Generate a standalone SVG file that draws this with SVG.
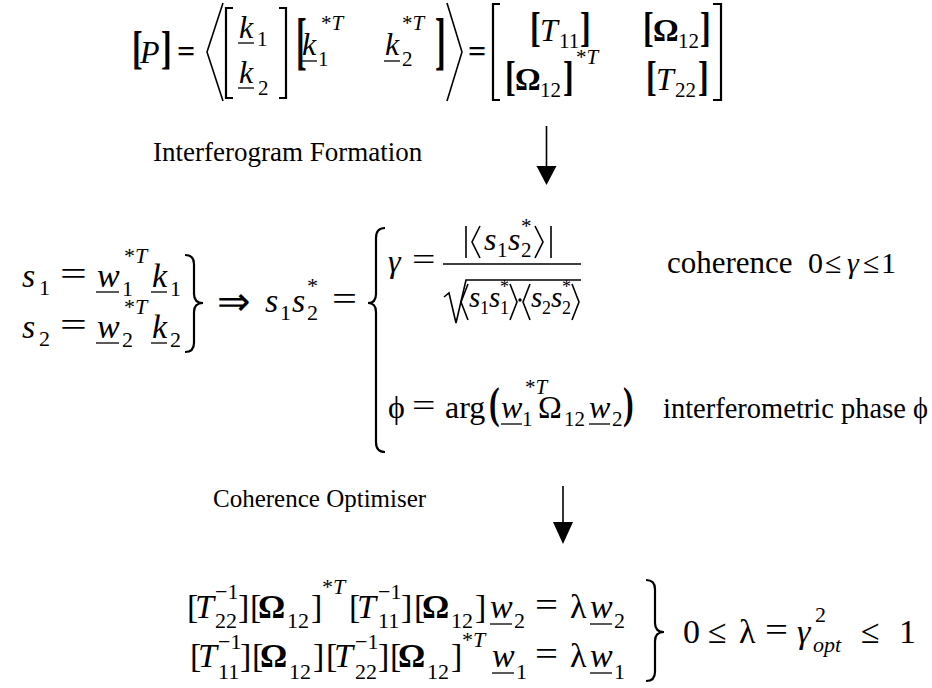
<svg xmlns="http://www.w3.org/2000/svg" width="932" height="688" viewBox="0 0 932 688">
<style>
.t{font-family:"Liberation Serif","Times New Roman",serif;fill:#000}
.m{font-size:32px}
.n{font-size:34px}
.d{font-size:30px}
.e{font-size:29px}
.i{font-style:italic}
.s{font-size:21px}
.ss{font-size:18px}
.b{font-weight:bold}
.q{font-size:34px}
.qs{font-size:22px}
.ln{stroke:#000;stroke-width:1.6;fill:none}
.tk{stroke:#000;stroke-width:2.2;fill:none}
.ul{stroke:#000;stroke-width:1.3}
</style>
<rect width="932" height="688" fill="#fff"/>

<g id="eq-covariance">
  <text class="t m b" transform="translate(132,63) scale(1,1.45)">[</text>
  <text class="t m i" x="140" y="63">P</text>
  <text class="t m b" transform="translate(161,63) scale(1,1.45)">]</text>
  <text class="t m b" x="177" y="62">=</text>
  <path class="ln" d="M223,3 L207,52 L223,101"/>
  <path class="tk" d="M233,8 H226 V98 H233"/>
  <text class="t m i" x="239" y="38">k</text>
  <line class="ul" x1="238" y1="43" x2="254" y2="43"/>
  <text class="t s" x="257" y="46">1</text>
  <text class="t m i" x="239" y="83">k</text>
  <line class="ul" x1="238" y1="88" x2="254" y2="88"/>
  <text class="t s" x="258" y="95">2</text>
  <path class="tk" d="M279,8 H286 V98 H279"/>
  <text class="t m b" transform="translate(296,62) scale(1,2)">[</text>
  <text class="t m i" x="302" y="55">k</text>
  <line class="ul" x1="301" y1="61" x2="317" y2="61"/>
  <text class="t s" x="318" y="66">1</text>
  <text class="t s" x="321" y="30">*<tspan class="i">T</tspan></text>
  <text class="t m i" x="385" y="55">k</text>
  <line class="ul" x1="384" y1="61" x2="400" y2="61"/>
  <text class="t s" x="402" y="66">2</text>
  <text class="t s" x="402" y="30">*<tspan class="i">T</tspan></text>
  <text class="t m b" transform="translate(435,62) scale(1,2)">]</text>
  <path class="ln" d="M447,3 L462,52 L447,101"/>
  <text class="t m b" x="468" y="62">=</text>
  <path class="tk" d="M500,4 H493 V100 H500"/>
  <path class="tk" d="M713,4 H721 V100 H713"/>
  <text class="t m b" transform="translate(530,41) scale(1,1.35)">[</text>
  <text class="t m i" x="540" y="41">T</text>
  <text class="t s" x="559" y="48">11</text>
  <text class="t m b" transform="translate(580,41) scale(1,1.35)">]</text>
  <text class="t m b" transform="translate(643,41) scale(1,1.35)">[</text>
  <text class="t m b" x="653" y="41">Ω</text>
  <text class="t s" x="678" y="48">12</text>
  <text class="t m b" transform="translate(700,41) scale(1,1.35)">]</text>
  <text class="t m b" transform="translate(505,90) scale(1,1.35)">[</text>
  <text class="t m b" x="515" y="90">Ω</text>
  <text class="t s" x="540" y="97">12</text>
  <text class="t m b" transform="translate(563,90) scale(1,1.35)">]</text>
  <text class="t s" x="576" y="64">*<tspan class="i">T</tspan></text>
  <text class="t m b" transform="translate(646,90) scale(1,1.35)">[</text>
  <text class="t m i" x="656" y="90">T</text>
  <text class="t s" x="675" y="97">22</text>
  <text class="t m b" transform="translate(698,90) scale(1,1.35)">]</text>
</g>

<g id="label-interferogram">
  <text class="t" x="153" y="161" style="font-size:27px">Interferogram Formation</text>
</g>

<g id="eq-signals">
  <text class="t n i" x="22" y="287">s</text>
  <text class="t qs" x="39" y="295">1</text>
  <text class="t n" transform="translate(60,285) scale(1.4,1)">=</text>
  <text class="t n i" x="97" y="287">w</text>
  <line class="ul" x1="96" y1="292" x2="119" y2="292"/>
  <text class="t qs" x="124" y="263">*<tspan class="i">T</tspan></text>
  <text class="t qs" x="122" y="296">1</text>
  <text class="t n i" x="152" y="287">k</text>
  <line class="ul" x1="151" y1="292" x2="167" y2="292"/>
  <text class="t qs" x="170" y="296">1</text>
  <text class="t n i" x="22" y="338">s</text>
  <text class="t qs" x="39" y="346">2</text>
  <text class="t n" transform="translate(60,336) scale(1.4,1)">=</text>
  <text class="t n i" x="97" y="338">w</text>
  <line class="ul" x1="96" y1="343" x2="119" y2="343"/>
  <text class="t qs" x="124" y="314">*<tspan class="i">T</tspan></text>
  <text class="t qs" x="122" y="347">2</text>
  <text class="t n i" x="152" y="338">k</text>
  <line class="ul" x1="151" y1="343" x2="167" y2="343"/>
  <text class="t qs" x="170" y="347">2</text>
  <path class="tk" d="M185,255 Q194,255 194,264 L194,294 Q194,303 203,303 Q194,303 194,312 L194,343 Q194,352 185,352"/>
  <text class="t" x="217" y="315" style="font-size:40px">⇒</text>
  <text class="t n i" x="265" y="312">s</text>
  <text class="t qs" x="280" y="320">1</text>
  <text class="t n i" x="292" y="312">s</text>
  <text class="t qs" x="307" y="293">*</text>
  <text class="t qs" x="307" y="320">2</text>
  <text class="t n" transform="translate(332,310) scale(1.3,1)">=</text>
</g>

<g id="eq-coherence">
  <path class="tk" d="M385,228 Q376,228 376,238 L376,294 Q376,303 368,303 Q376,303 376,312 L376,442 Q376,452 385,452"/>
  <text class="t m i" x="388" y="272">γ</text>
  <text class="t m" transform="translate(412,270) scale(1.3,1)">=</text>
  <line class="ln" x1="443" y1="264" x2="581" y2="264"/>
  <line class="ln" x1="466" y1="226" x2="466" y2="258"/>
  <path class="ln" d="M480,226 L472,242 L480,258"/>
  <text class="t m i" x="484" y="250">s</text>
  <text class="t s" x="497" y="257">1</text>
  <text class="t m i" x="508" y="250">s</text>
  <text class="t s" x="521" y="233">*</text>
  <text class="t s" x="521" y="257">2</text>
  <path class="ln" d="M535,226 L543,242 L535,258"/>
  <line class="ln" x1="551" y1="226" x2="551" y2="258"/>
  <path class="ln" d="M444,297 L449,293 L456,323 L466,280 H581"/>
  <path class="ln" d="M468,284 L461,302 L468,320"/>
  <text class="t e i" x="469" y="307">s</text>
  <text class="t ss" x="480" y="314">1</text>
  <text class="t e i" x="489" y="307">s</text>
  <text class="t ss" x="500" y="293">*</text>
  <text class="t ss" x="500" y="314">1</text>
  <path class="ln" d="M510,284 L517,302 L510,320"/>
  <circle cx="520" cy="300" r="1.7" fill="#000"/>
  <path class="ln" d="M530,284 L523,302 L530,320"/>
  <text class="t e i" x="531" y="307">s</text>
  <text class="t ss" x="542" y="314">2</text>
  <text class="t e i" x="551" y="307">s</text>
  <text class="t ss" x="562" y="293">*</text>
  <text class="t ss" x="562" y="314">2</text>
  <path class="ln" d="M572,284 L579,302 L572,320"/>
  <text class="t m" x="388" y="418">ϕ</text>
  <text class="t m" transform="translate(412,416) scale(1.3,1)">=</text>
  <text class="t m" x="445" y="418">arg</text>
  <text class="t m b" transform="translate(489,418) scale(1,1.4)">(</text>
  <text class="t m i" x="501" y="418">w</text>
  <line class="ul" x1="501" y1="424" x2="522" y2="424"/>
  <text class="t s" x="525" y="394">*<tspan class="i">T</tspan></text>
  <text class="t s" x="522" y="426">1</text>
  <text class="t m" x="538" y="418">Ω</text>
  <text class="t s" x="564" y="426">12</text>
  <text class="t m i" x="589" y="418">w</text>
  <line class="ul" x1="589" y1="424" x2="610" y2="424"/>
  <text class="t s" x="612" y="426">2</text>
  <text class="t m b" transform="translate(623,418) scale(1,1.4)">)</text>
  <text class="t" x="667" y="273" style="font-size:31px">coherence</text>
  <text class="t d" x="808" y="273">0</text>
  <text class="t d" x="825" y="273">≤</text>
  <text class="t d i" x="847" y="273">γ</text>
  <text class="t d" x="863" y="273">≤</text>
  <text class="t d" x="881" y="273">1</text>
  <text class="t" x="663" y="418" style="font-size:28.5px">interferometric phase ϕ</text>
</g>

<g id="label-optimiser">
  <text class="t" x="213" y="507" style="font-size:25px">Coherence Optimiser</text>
</g>

<g id="eq-optimiser">
  <text class="t q" x="187" y="618">[</text>
  <text class="t q i" x="195" y="618">T</text>
  <text class="t qs" x="215" y="599">−1</text>
  <text class="t qs" x="215" y="628">22</text>
  <text class="t q" x="238" y="618">]</text>
  <text class="t q" x="250" y="618">[</text>
  <text class="t q b" x="258" y="618">Ω</text>
  <text class="t qs" x="287" y="628">12</text>
  <text class="t q" x="311" y="618">]</text>
  <text class="t qs" x="322" y="594">*<tspan class="i">T</tspan></text>
  <text class="t q" x="349" y="618">[</text>
  <text class="t q i" x="357" y="618">T</text>
  <text class="t qs" x="378" y="599">−1</text>
  <text class="t qs" x="378" y="628">11</text>
  <text class="t q" x="401" y="618">]</text>
  <text class="t q" x="414" y="618">[</text>
  <text class="t q b" x="422" y="618">Ω</text>
  <text class="t qs" x="451" y="628">12</text>
  <text class="t q" x="475" y="618">]</text>
  <text class="t q i" x="490" y="618">w</text>
  <line class="ul" x1="490" y1="624" x2="512" y2="624"/>
  <text class="t qs" x="514" y="628">2</text>
  <text class="t q" transform="translate(535,616) scale(1.2,1)">=</text>
  <text class="t q" x="570" y="618">λ</text>
  <text class="t q i" x="590" y="618">w</text>
  <line class="ul" x1="590" y1="624" x2="612" y2="624"/>
  <text class="t qs" x="614" y="628">2</text>
  <text class="t q" x="190" y="667">[</text>
  <text class="t q i" x="198" y="667">T</text>
  <text class="t qs" x="218" y="649">−1</text>
  <text class="t qs" x="218" y="679">11</text>
  <text class="t q" x="240" y="667">]</text>
  <text class="t q" x="252" y="667">[</text>
  <text class="t q b" x="260" y="667">Ω</text>
  <text class="t qs" x="289" y="679">12</text>
  <text class="t q" x="313" y="667">]</text>
  <text class="t q" x="326" y="667">[</text>
  <text class="t q i" x="334" y="667">T</text>
  <text class="t qs" x="355" y="649">−1</text>
  <text class="t qs" x="355" y="679">22</text>
  <text class="t q" x="378" y="667">]</text>
  <text class="t q" x="390" y="667">[</text>
  <text class="t q b" x="398" y="667">Ω</text>
  <text class="t qs" x="427" y="679">12</text>
  <text class="t q" x="451" y="667">]</text>
  <text class="t qs" x="462" y="647">*<tspan class="i">T</tspan></text>
  <text class="t q i" x="492" y="667">w</text>
  <line class="ul" x1="492" y1="673" x2="514" y2="673"/>
  <text class="t qs" x="516" y="679">1</text>
  <text class="t q" transform="translate(535,665) scale(1.2,1)">=</text>
  <text class="t q" x="570" y="667">λ</text>
  <text class="t q i" x="590" y="667">w</text>
  <line class="ul" x1="590" y1="673" x2="612" y2="673"/>
  <text class="t qs" x="614" y="679">1</text>
  <path class="tk" d="M646,580 Q655,580 655,589 L655,623 Q655,632 664,632 Q655,632 655,641 L655,672 Q655,681 646,681"/>
  <text class="t q" x="683" y="643">0</text>
  <text class="t q" x="708" y="643">≤</text>
  <text class="t q" x="739" y="643">λ</text>
  <text class="t q" transform="translate(765,641) scale(1.2,1)">=</text>
  <text class="t q i" x="797" y="643">γ</text>
  <text class="t qs" x="815" y="622">2</text>
  <text class="t qs i" x="813" y="652">opt</text>
  <text class="t q" x="861" y="643">≤</text>
  <text class="t q" x="899" y="643">1</text>
</g>

<g id="connectors">
  <line class="ln" x1="546.5" y1="126" x2="546.5" y2="167"/>
  <polygon points="536.5,166 556.5,166 546.5,185" fill="#000"/>
  <line class="ln" x1="563" y1="486" x2="563" y2="523"/>
  <polygon points="553,522 573,522 563,544" fill="#000"/>
</g>
</svg>
